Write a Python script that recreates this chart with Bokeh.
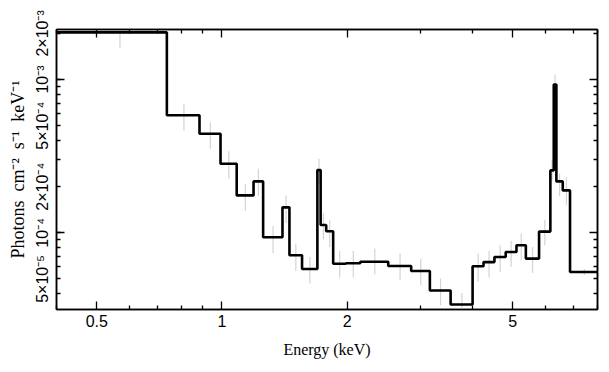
from bokeh.plotting import figure
from bokeh.models import FixedTicker, LogAxis
from bokeh.embed import file_html
from bokeh.resources import INLINE

# Bin edges (keV)
edges = [0.40, 0.737, 0.883, 0.992, 1.085, 1.191, 1.256, 1.398, 1.453, 1.558,
         1.696, 1.727, 1.781, 1.851, 1.987, 2.151, 2.511, 2.851, 3.162, 3.547,
         4.006, 4.256, 4.521, 4.812, 5.108, 5.380, 5.788, 6.162, 6.279, 6.371,
         6.600, 6.871, 8.0]

# Unfolded spectrum values (photons cm^-2 s^-1 keV^-1)
flux = [2.03e-3, 5.85e-4, 4.43e-4, 2.82e-4, 1.754e-4, 2.165e-4, 9.35e-5, 1.466e-4,
        7.14e-5, 5.81e-5, 2.565e-4, 1.124e-4, 1.023e-4, 6.28e-5, 6.33e-5, 6.47e-5,
        6.08e-5, 5.64e-5, 4.20e-5, 3.41e-5, 6.05e-5, 6.44e-5, 6.96e-5, 7.49e-5,
        8.29e-5, 6.79e-5, 1.018e-4, 2.553e-4, 9.28e-4, 2.165e-4, 1.891e-4, 5.55e-5]

err_hi = [2.19e-3, 6.95e-4, 5.27e-4, 3.40e-4, 2.09e-4, 2.62e-4, 1.107e-4, 1.754e-4,
          8.50e-5, 6.96e-5, 3.04e-4, 1.334e-4, 1.206e-4, 7.61e-5, 7.61e-5, 7.89e-5,
          7.32e-5, 6.79e-5, 5.03e-5, 4.05e-5, 7.32e-5, 7.61e-5, 8.29e-5, 8.89e-5,
          9.88e-5, 8.08e-5, 1.219e-4, 2.967e-4, 1.078e-3, 2.43e-4, 2.31e-4, 5.8e-5]

err_lo = [1.608e-3, 4.63e-4, 3.54e-4, 2.254e-4, 1.387e-4, 1.729e-4, 7.38e-5, 1.158e-4,
          5.64e-5, 4.67e-5, 2.09e-4, 9.03e-5, 8.08e-5, 5.11e-5, 5.11e-5, 5.35e-5,
          4.90e-5, 4.55e-5, 3.37e-5, 2.9e-5, 4.78e-5, 5.11e-5, 5.55e-5, 5.98e-5,
          6.62e-5, 5.47e-5, 8.29e-5, 2.198e-4, 8.07e-4, 1.729e-4, 1.511e-4, 5.3e-5]

x_major = [0.5, 1, 2, 5]
x_minor = [0.4, 0.6, 0.7, 0.8, 0.9, 3, 4, 6, 7, 8]
y_major = [5e-5, 1e-4, 2e-4, 5e-4, 1e-3, 2e-3]
y_labels = ["5\u00d710\u207b\u2075", "10\u207b\u2074", "2\u00d710\u207b\u2074",
            "5\u00d710\u207b\u2074", "10\u207b\u00b3", "2\u00d710\u207b\u00b3"]
y_minor = [4e-5, 6e-5, 7e-5, 8e-5, 9e-5, 3e-4, 4e-4, 6e-4, 7e-4, 8e-4, 9e-4]
y_decades = [1e-4, 1e-3]

x_range = (0.4, 8.0)
y_range = (3.16e-5, 2.12e-3)

centers = [(edges[i] + edges[i + 1]) / 2 for i in range(len(flux))]

p = figure(x_axis_type="log", y_axis_type="log", x_range=x_range, y_range=y_range,
           x_axis_location=None, y_axis_location=None,
           frame_width=541, frame_height=280,
           min_border_left=56, min_border_right=8, min_border_top=29, min_border_bottom=60,
           output_backend="svg", toolbar_location=None)
p.grid.visible = False
p.outline_line_color = "black"
p.outline_line_width = 1.5
p.background_fill_color = "white"
p.border_fill_color = "white"


def tick_style(ax, major_len, minor_len, line=True):
    ax.axis_line_color = "black" if line else None
    ax.axis_line_width = 1.5
    ax.major_tick_in = major_len
    ax.major_tick_out = 0
    ax.minor_tick_in = minor_len
    ax.minor_tick_out = 0
    ax.major_tick_line_width = 1.3
    ax.minor_tick_line_width = 1.3
    ax.major_tick_line_color = "black"
    ax.minor_tick_line_color = "black"


def ticks_only(ticks, length):
    ax = LogAxis(ticker=FixedTicker(ticks=[], minor_ticks=ticks))
    tick_style(ax, 0, length, line=False)
    ax.major_label_standoff = 0
    ax.axis_label_standoff = 0
    return ax


# bottom axis (labelled)
xa = LogAxis(ticker=FixedTicker(ticks=x_major, minor_ticks=x_minor))
tick_style(xa, 8, 4)
xa.major_label_text_font = "Liberation Sans"
xa.major_label_text_font_size = "16px"
xa.major_label_text_color = "black"
xa.major_label_standoff = 5
xa.axis_label = "Energy (keV)"
xa.axis_label_text_font = "Liberation Serif"
xa.axis_label_text_font_style = "normal"
xa.axis_label_text_font_size = "16px"
xa.axis_label_text_color = "black"
xa.axis_label_standoff = 11
p.add_layout(xa, "below")

# left axis: long decade ticks, then labelled axis
p.add_layout(ticks_only(y_decades, 8), "left")
ya = LogAxis(ticker=FixedTicker(ticks=y_major, minor_ticks=y_minor))
tick_style(ya, 4, 4)
ya.major_label_overrides = {v: s for v, s in zip(y_major, y_labels)}
ya.major_label_orientation = "vertical"
ya.major_label_text_font = "Liberation Sans"
ya.major_label_text_font_size = "16px"
ya.major_label_text_color = "black"
ya.major_label_standoff = 5
ya.axis_label = "Photons\u2002cm\u207b\u00b2\u2002s\u207b\u00b9\u2002keV\u207b\u00b9"
ya.axis_label_text_font = "Liberation Serif"
ya.axis_label_text_font_style = "normal"
ya.axis_label_text_font_size = "18px"
ya.axis_label_text_color = "black"
ya.axis_label_standoff = 4
p.add_layout(ya, "left")

# top axis: ticks only
top_minor = ticks_only(x_minor, 4)
top_minor.axis_line_color = "black"
p.add_layout(top_minor, "above")
p.add_layout(ticks_only(x_major, 8), "above")

# right axis: ticks only
right_minor = ticks_only(y_minor + [5e-5, 2e-4, 5e-4, 2e-3], 4)
right_minor.axis_line_color = "black"
p.add_layout(right_minor, "right")
p.add_layout(ticks_only(y_decades, 8), "right")

# error bars
p.segment(x0=centers, y0=err_lo, x1=centers, y1=err_hi, line_color="#d4d4d4", line_width=1.2)

# step histogram
p.step(x=edges, y=flux + [flux[-1]], mode="after", line_color="black", line_width=2.6)

open("out.html", "w").write(file_html(p, INLINE))
